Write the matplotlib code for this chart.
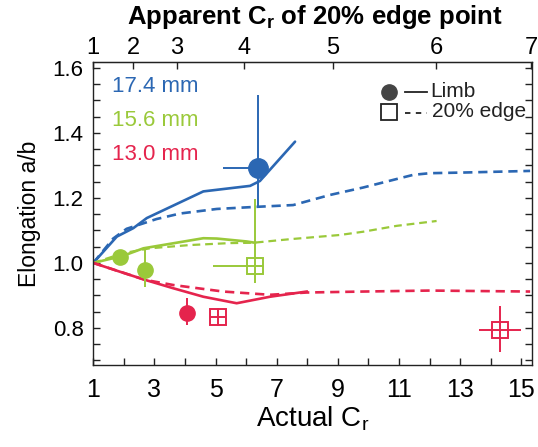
import matplotlib
matplotlib.use("Agg")
import matplotlib.pyplot as plt
from matplotlib.ticker import MultipleLocator, FixedLocator, FormatStrFormatter

plt.rcParams['font.family'] = ['Liberation Sans', 'DejaVu Sans']
plt.rcParams['mathtext.default'] = 'regular'

# ---------------- data ----------------
blue_solid_x = [1.0, 1.77, 2.31, 2.75, 4.60, 6.13, 6.45, 7.60]
blue_solid_y = [1.0, 1.081, 1.107, 1.138, 1.220, 1.237, 1.252, 1.373]
blue_dash_x = [1.0, 1.65, 2.09, 3.07, 3.84, 5.04, 6.23, 7.54, 8.74, 9.83, 10.92, 11.47, 12.01, 13.10, 15.29]
blue_dash_y = [1.0, 1.075, 1.105, 1.135, 1.152, 1.166, 1.172, 1.178, 1.209, 1.232, 1.258, 1.271, 1.276, 1.278, 1.283]

green_solid_x = [1.0, 1.98, 2.64, 4.60, 5.04, 6.02, 6.29]
green_solid_y = [1.0, 1.022, 1.045, 1.076, 1.075, 1.066, 1.062]
green_dash_x = [1.0, 1.98, 2.85, 4.16, 5.47, 6.23, 7.43, 9.07, 9.83, 10.92, 12.23]
green_dash_y = [1.0, 1.030, 1.045, 1.055, 1.061, 1.062, 1.073, 1.086, 1.096, 1.114, 1.129]

red_solid_x = [1.0, 1.87, 2.69, 3.62, 4.60, 5.69, 6.78, 7.98]
red_solid_y = [1.0, 0.973, 0.948, 0.922, 0.896, 0.876, 0.896, 0.912]
red_dash_x = [1.0, 2.69, 3.62, 5.25, 6.78, 7.98, 9.83, 12.01, 15.29]
red_dash_y = [1.0, 0.948, 0.932, 0.912, 0.902, 0.909, 0.912, 0.915, 0.912]

# limb measurements (filled circles): x, y, x-err(left,right), y-err(low,high)
blue_limb = dict(x=[6.40], y=[1.291], xerr=[[1.15], [0.0]], yerr=[[0.119], [0.226]])
green_limb_x = [1.87, 2.69]
green_limb_y = [1.019, 0.978]
green_limb_yerr = [[0.0, 0.051], [0.0, 0.072]]
red_limb = dict(x=[4.05], y=[0.845], yerr=[[0.036], [0.046]])

# 20% edge measurements (open squares)
green_edge = dict(x=[6.29], y=[0.992], xerr=[[1.36], [0.29]], yerr=[[0.054], [0.204]])
red_edge_x = [5.07, 14.30]
red_edge_y = [0.833, 0.794]
red_edge_xerr = [[0.25, 0.68], [0.25, 0.68]]
red_edge_yerr = [[0.027, 0.067], [0.028, 0.072]]

series_labels = ["17.4 mm", "15.6 mm", "13.0 mm"]

top_tick_pos = [1.0, 2.30, 3.74, 5.93, 8.84, 12.21, 15.33]
top_tick_labels = ["1", "2", "3", "4", "5", "6", "7"]
bottom_ticks = [1, 3, 5, 7, 9, 11, 13, 15]

BLUE = "#2b67b3"
GREEN = "#9ac93a"
RED = "#e5244d"
DARK = "#222222"

fig = plt.figure(figsize=(5.38, 4.47), dpi=100)
ax = fig.add_axes([0.1734, 0.1834, 0.8154, 0.6779])

lw = 1.9
dash = (0, (3.5, 2.2))
ax.plot(blue_solid_x, blue_solid_y, color=BLUE, lw=lw, solid_capstyle='round')
ax.plot(blue_dash_x, blue_dash_y, color=BLUE, lw=lw, linestyle=dash)
ax.plot(green_solid_x, green_solid_y, color=GREEN, lw=lw)
ax.plot(green_dash_x, green_dash_y, color=GREEN, lw=1.6, linestyle=dash)
ax.plot(red_solid_x, red_solid_y, color=RED, lw=lw)
ax.plot(red_dash_x, red_dash_y, color=RED, lw=lw, linestyle=dash)

eb_lw = 1.4
ax.errorbar(blue_limb['x'], blue_limb['y'], xerr=blue_limb['xerr'], yerr=blue_limb['yerr'],
            fmt='o', color=BLUE, ms=14, elinewidth=eb_lw, capsize=0)
ax.errorbar(green_limb_x, green_limb_y, yerr=green_limb_yerr,
            fmt='o', color=GREEN, ms=11, elinewidth=eb_lw, capsize=0)
ax.errorbar(red_limb['x'], red_limb['y'], yerr=red_limb['yerr'],
            fmt='o', color=RED, ms=11, elinewidth=eb_lw, capsize=0)
ax.errorbar(green_edge['x'], green_edge['y'], xerr=green_edge['xerr'], yerr=green_edge['yerr'],
            fmt='s', color=GREEN, mfc='none', mec=GREEN, ms=12, mew=1.4,
            elinewidth=eb_lw, capsize=0)
ax.errorbar(red_edge_x, red_edge_y, xerr=red_edge_xerr, yerr=red_edge_yerr,
            fmt='s', color=RED, mfc='none', mec=RED, ms=12, mew=1.4,
            elinewidth=eb_lw, capsize=0, ls='none')

ax.set_xlim(1, 15.35)
ax.set_ylim(0.686, 1.618)

ax.xaxis.set_major_locator(FixedLocator(bottom_ticks))
ax.xaxis.set_minor_locator(MultipleLocator(1))
ax.yaxis.set_major_locator(MultipleLocator(0.2))
ax.yaxis.set_minor_locator(MultipleLocator(0.05))
ax.yaxis.set_major_formatter(FormatStrFormatter('%.1f'))

ax.tick_params(which='both', direction='in', right=True, top=False, color=DARK)
ax.tick_params(which='major', length=5, width=1, labelsize=16, pad=7)
ax.tick_params(which='minor', length=5, width=1)
ax.tick_params(axis='x', which='major', labelsize=18, pad=9)

for s in ax.spines.values():
    s.set_color(DARK)
    s.set_linewidth(1.0)

ax.set_xlabel("Actual C$_r$", fontsize=20, labelpad=2)
ax.set_ylabel("Elongation a/b", fontsize=16.5, labelpad=8)

top = ax.secondary_xaxis('top')
top.set_xticks(top_tick_pos)
top.set_xticklabels(top_tick_labels)
top.tick_params(direction='in', length=5, width=1, labelsize=17, pad=2, color=DARK)
fig.text(0.5855, 1 - 3.0 / 447, "Apparent C$_r$ of 20% edge point", fontsize=18.5,
         fontweight='bold', ha='center', va='top')

# series labels
label_colors = [BLUE, GREEN, RED]
label_y = [0.918, 0.806, 0.696]
for t, c, yy in zip(series_labels, label_colors, label_y):
    ax.text(0.042, yy, t, color=c, fontsize=16, transform=ax.transAxes, va='center', ha='left')

# symbol key
ax.plot([0.675], [0.901], marker='o', ms=11, color='#444444', transform=ax.transAxes, clip_on=False)
ax.plot([0.711, 0.760], [0.901, 0.901], color=DARK, lw=1.3, transform=ax.transAxes)
ax.text(0.767, 0.904, "Limb", fontsize=15, transform=ax.transAxes, va='center', ha='left', color=DARK)
ax.plot([0.674], [0.836], marker='s', ms=11, mfc='white', mec=DARK, mew=1.3, transform=ax.transAxes)
ax.plot([0.711, 0.760], [0.833, 0.833], color=DARK, lw=1.3, linestyle=(0, (3, 3)), transform=ax.transAxes)
ax.text(0.773, 0.836, "20% edge", fontsize=15, transform=ax.transAxes, va='center', ha='left', color=DARK)

fig.savefig("out.png", dpi=100)
